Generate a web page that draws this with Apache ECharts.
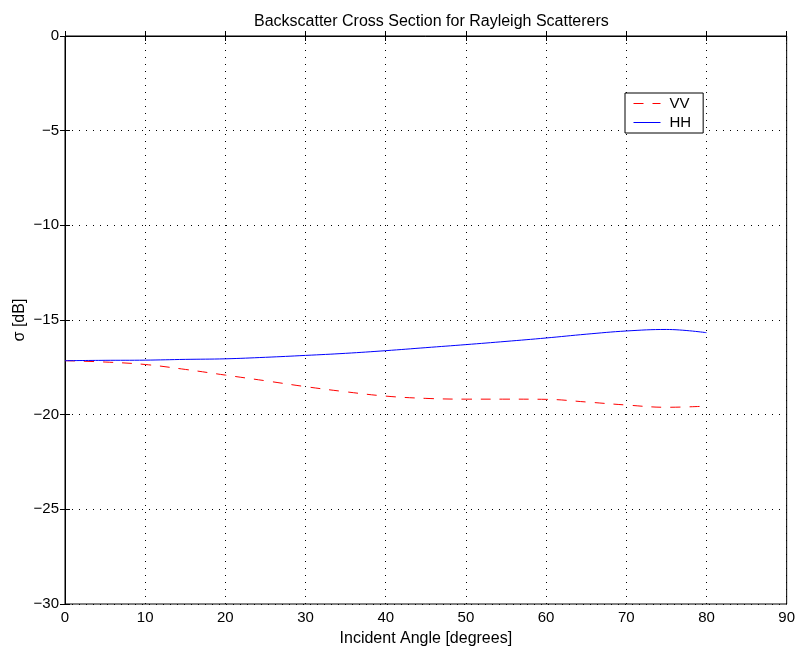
<!DOCTYPE html>
<html><head><meta charset="utf-8">
<script src="https://cdn.jsdelivr.net/npm/echarts@6/dist/echarts.min.js"></script>
<style>html,body{margin:0;padding:0;background:#fff}#c{width:798px;height:652px}</style>
</head><body><div id="c"></div>
<script>
var angles = [0,5,10,15,20,25,30,35,40,45,50,55,60,65,70,75,80];
var vv = [-17.15,-17.22,-17.35,-17.61,-17.91,-18.21,-18.52,-18.79,-19.02,-19.14,-19.18,-19.18,-19.19,-19.33,-19.49,-19.61,-19.55];
var hh = [-17.15,-17.13,-17.12,-17.08,-17.05,-16.97,-16.87,-16.76,-16.62,-16.46,-16.30,-16.13,-15.95,-15.75,-15.58,-15.50,-15.67];
var xTicks = [0,10,20,30,40,50,60,70,80,90];
var yTicks = [0,-5,-10,-15,-20,-25,-30];

function pairs(xs, ys){ return xs.map(function(x,i){return [x, ys[i]];}); }
var font = 'Liberation Sans, Arial, Helvetica, sans-serif';
var chart = echarts.init(document.getElementById('c'), null, {renderer:'canvas'});
var gridLine = {show:true, lineStyle:{color:'#000', type:[1,6], width:1}};
chart.setOption({
  animation:false,
  backgroundColor:'#fff',
  title:{text:'Backscatter Cross Section for Rayleigh Scatterers', left:249, top:9,
    textStyle:{fontFamily:font, fontSize:16, fontWeight:'normal', color:'#000'}},
  grid:{left:65, right:10, top:36, bottom:48, show:true, borderColor:'#000', borderWidth:1},
  legend:{orient:'vertical', left:625, top:93,
    data:['VV','HH'], borderColor:'#000', borderWidth:1,
    itemStyle:{opacity:0, borderWidth:0}, lineStyle:{width:1},
    backgroundColor:'#fff', padding:[3,12,3,8], itemGap:4, itemWidth:27, itemHeight:14,
    textStyle:{fontFamily:font, fontSize:15, color:'#000', padding:[0,0,0,4]}},
  xAxis:[{type:'value', min:0, max:90, interval:10, name:'Incident Angle [degrees]', nameLocation:'middle', nameGap:27,
    nameTextStyle:{fontFamily:font, fontSize:16, color:'#000'},
    axisLine:{show:true, lineStyle:{color:'#000'}}, axisTick:{show:true, inside:true, length:5, lineStyle:{color:'#000'}},
    axisLabel:{fontFamily:font, fontSize:15, color:'#000', margin:6}, splitLine:gridLine},
    {type:'value', position:'top', min:0, max:90, interval:10, axisLine:{show:false},
    axisTick:{show:true, inside:true, length:5, lineStyle:{color:'#000'}}, axisLabel:{show:false}, splitLine:{show:false}}],
  yAxis:[{type:'value', min:-30, max:0, interval:5, name:'σ [dB]', nameLocation:'middle', nameGap:37, nameRotate:90,
    nameMoveOverlap:false,
    nameTextStyle:{fontFamily:font, fontSize:16, color:'#000'},
    axisLine:{show:true, lineStyle:{color:'#000'}}, axisTick:{show:true, inside:true, length:5, lineStyle:{color:'#000'}},
    axisLabel:{fontFamily:font, fontSize:15, color:'#000', margin:6, formatter:function(v){return String(v).replace('-','\u2212');}},
    splitLine:gridLine},
    {type:'value', position:'right', min:-30, max:0, interval:5, axisLine:{show:false},
    axisTick:{show:true, inside:true, length:5, lineStyle:{color:'#000'}}, axisLabel:{show:false}, splitLine:{show:false}}],
  series:[
    {name:'VV', type:'line', data:pairs(angles, vv), smooth:0.4, symbol:'none', showSymbol:false,
      lineStyle:{color:'#ff0000', width:1, type:[10,9]}, itemStyle:{color:'#ff0000'}},
    {name:'HH', type:'line', data:pairs(angles, hh), smooth:0.4, symbol:'none', showSymbol:false,
      lineStyle:{color:'#0000ff', width:1}, itemStyle:{color:'#0000ff'}}
  ]
});
</script></body></html>
